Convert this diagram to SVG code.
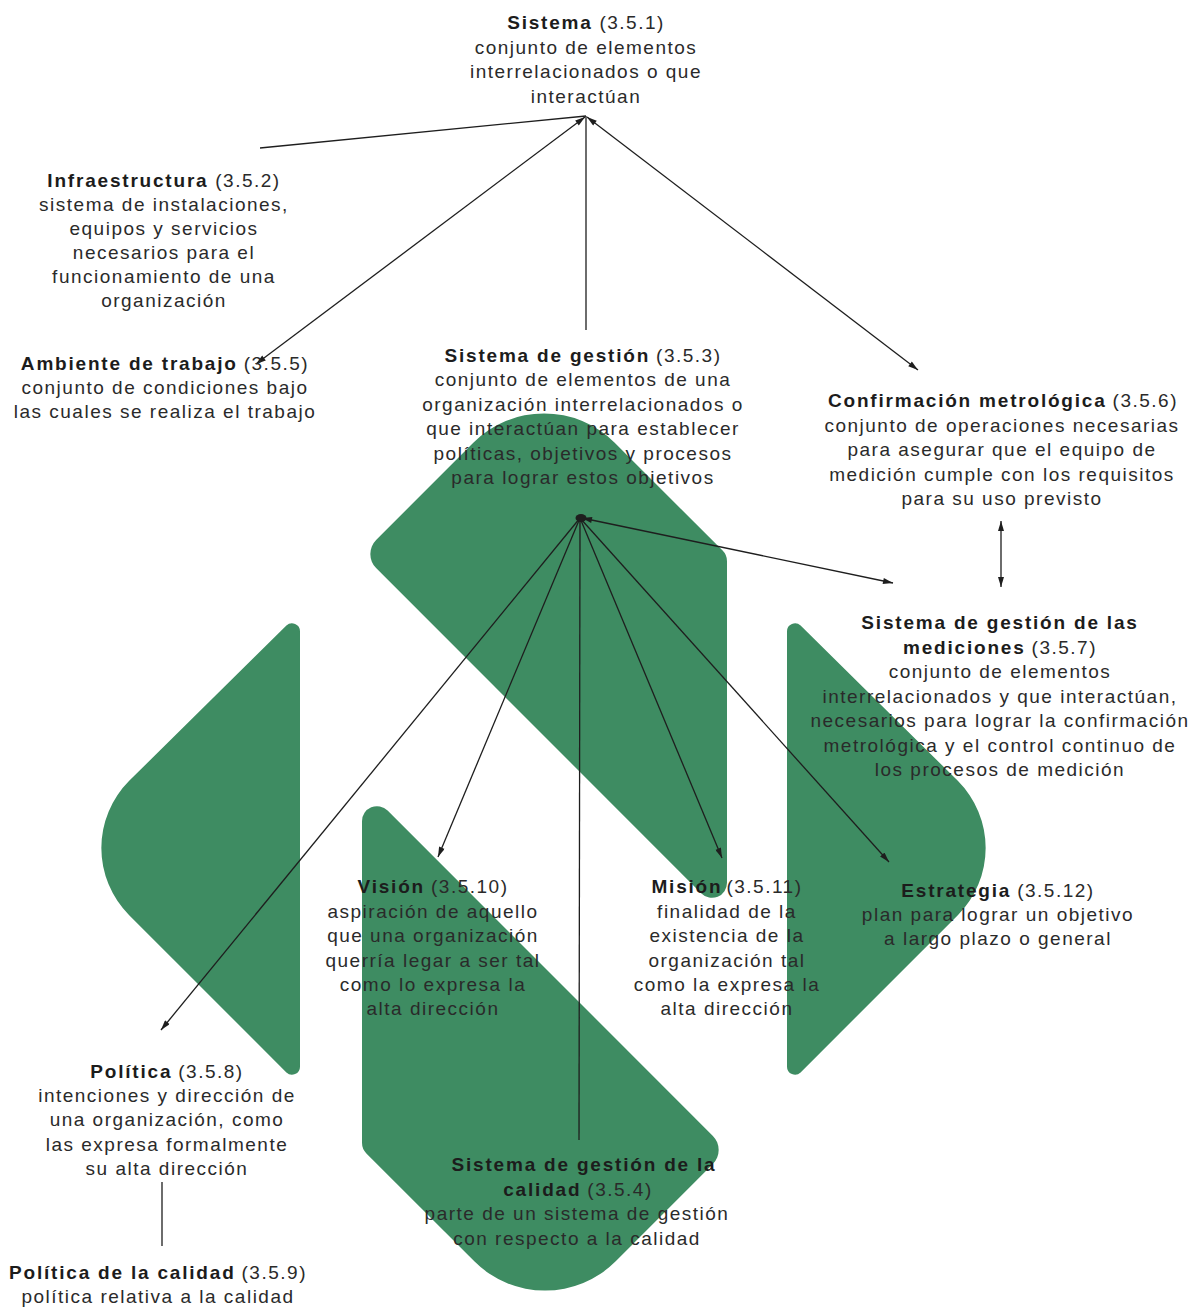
<svg xmlns="http://www.w3.org/2000/svg" width="1203" height="1307" viewBox="0 0 1203 1307">
<style>
text{font-family:"Liberation Sans",Arial,sans-serif;font-size:19px;letter-spacing:1.5px;fill:#2a2a2a;text-anchor:middle}
.b{font-weight:bold;fill:#1c1c1c;letter-spacing:1.8px}
.shape{fill:#3e8c62}
.ln{stroke:#1e1e1e;stroke-width:1.3;fill:none}
</style>
<defs>
<marker id="arr" viewBox="0 0 10 6" refX="10" refY="3" markerWidth="11" markerHeight="6" markerUnits="userSpaceOnUse" orient="auto-start-reverse">
<path d="M0,0 L10,3 L0,6 z" fill="#1e1e1e"/>
</marker>
</defs>
<rect width="1203" height="1307" fill="#ffffff"/>
<g id="background-shapes">
<path class="shape" d="M129.2,780.8 L286.4,625.6 A8,8 0 0 1 300,631.3 L300,1066.7 A8,8 0 0 1 286.4,1072.4 L129.2,915.2 A95,95 0 0 1 129.2,780.8 Z"/>
<path class="shape" d="M957.8,780.8 L800.6,625.6 A8,8 0 0 0 787,631.3 L787,1066.7 A8,8 0 0 0 800.6,1072.4 L957.8,915.2 A95,95 0 0 0 957.8,780.8 Z"/>
<path class="shape" d="M376.1,540 L473.3,442.7 A100,100 0 0 1 614.7,442.7 L722.6,550.6 A15,15 0 0 1 727,561.2 L727,882.8 A15,15 0 0 1 701.4,893.4 L376.1,568.1 A20,20 0 0 1 376.1,540 Z"/>
<path class="shape" d="M712.9,1164 L615.7,1261.3 A100,100 0 0 1 474.3,1261.3 L366.4,1153.4 A15,15 0 0 1 362,1142.8 L362,821.2 A15,15 0 0 1 387.6,810.6 L712.9,1135.9 A20,20 0 0 1 712.9,1164 Z"/>
</g>
<g id="connectors">
<path class="ln" d="M260,148 L586,116"/>
<path class="ln" d="M586,116 L586,330"/>
<path class="ln" d="M585,117 L256,364" marker-start="url(#arr)" marker-end="url(#arr)"/>
<path class="ln" d="M587,117 L918,370" marker-start="url(#arr)" marker-end="url(#arr)"/>
<path class="ln" d="M580,518 L161,1030" marker-end="url(#arr)"/>
<path class="ln" d="M580,518 L438,857" marker-end="url(#arr)"/>
<path class="ln" d="M580,518 L579,1140"/>
<path class="ln" d="M580,518 L722,858" marker-end="url(#arr)"/>
<path class="ln" d="M580,518 L889,862" marker-end="url(#arr)"/>
<path class="ln" d="M582,518 L893,583" marker-start="url(#arr)" marker-end="url(#arr)"/>
<path class="ln" d="M1001,521 L1001,587" marker-start="url(#arr)" marker-end="url(#arr)"/>
<path class="ln" d="M162,1182 L162,1246"/>
<ellipse cx="581" cy="518" rx="5.5" ry="4" fill="#1e1e1e"/>
</g>
<g id="n-sistema">
<text x="586" y="29"><tspan class="b">Sistema</tspan> (3.5.1)</text>
<text x="586" y="54">conjunto de elementos</text>
<text x="586" y="78">interrelacionados o que</text>
<text x="586" y="103">interactúan</text>
</g>
<g id="n-infraestructura">
<text x="164" y="187"><tspan class="b">Infraestructura</tspan> (3.5.2)</text>
<text x="164" y="211">sistema de instalaciones,</text>
<text x="164" y="235">equipos y servicios</text>
<text x="164" y="259">necesarios para el</text>
<text x="164" y="283">funcionamiento de una</text>
<text x="164" y="307">organización</text>
</g>
<g id="n-ambiente">
<text x="165" y="370"><tspan class="b">Ambiente de trabajo</tspan><tspan dx="6">(3.5.5)</tspan></text>
<text x="165" y="394">conjunto de condiciones bajo</text>
<text x="165" y="418">las cuales se realiza el trabajo</text>
</g>
<g id="n-sistema-gestion">
<text x="583" y="362"><tspan class="b">Sistema de gestión</tspan><tspan dx="6">(3.5.3)</tspan></text>
<text x="583" y="386">conjunto de elementos de una</text>
<text x="583" y="411">organización interrelacionados o</text>
<text x="583" y="435">que interactúan para establecer</text>
<text x="583" y="460">políticas, objetivos y procesos</text>
<text x="583" y="484">para lograr estos objetivos</text>
</g>
<g id="n-confirmacion">
<text x="1003" y="407"><tspan class="b">Confirmación metrológica</tspan><tspan dx="6">(3.5.6)</tspan></text>
<text x="1002" y="432">conjunto de operaciones necesarias</text>
<text x="1002" y="456">para asegurar que el equipo de</text>
<text x="1002" y="481">medición cumple con los requisitos</text>
<text x="1002" y="505">para su uso previsto</text>
</g>
<g id="n-mediciones">
<text x="1000" y="629" class="b">Sistema de gestión de las</text>
<text x="1000" y="654"><tspan class="b">mediciones</tspan><tspan dx="6">(3.5.7)</tspan></text>
<text x="1000" y="678">conjunto de elementos</text>
<text x="1000" y="703">interrelacionados y que interactúan,</text>
<text x="1000" y="727">necesarios para lograr la confirmación</text>
<text x="1000" y="752">metrológica y el control continuo de</text>
<text x="1000" y="776">los procesos de medición</text>
</g>
<g id="n-vision">
<text x="433" y="893"><tspan class="b">Visión</tspan><tspan dx="6">(3.5.10)</tspan></text>
<text x="433" y="918">aspiración de aquello</text>
<text x="433" y="942">que una organización</text>
<text x="433" y="967">querría legar a ser tal</text>
<text x="433" y="991">como lo expresa la</text>
<text x="433" y="1015">alta dirección</text>
</g>
<g id="n-mision">
<text x="727" y="893"><tspan class="b">Misión</tspan><tspan dx="4">(3.5.11)</tspan></text>
<text x="727" y="918">finalidad de la</text>
<text x="727" y="942">existencia de la</text>
<text x="727" y="967">organización tal</text>
<text x="727" y="991">como la expresa la</text>
<text x="727" y="1015">alta dirección</text>
</g>
<g id="n-estrategia">
<text x="998" y="897"><tspan class="b">Estrategia</tspan><tspan dx="6">(3.5.12)</tspan></text>
<text x="998" y="921">plan para lograr un objetivo</text>
<text x="998" y="945">a largo plazo o general</text>
</g>
<g id="n-politica">
<text x="167" y="1078"><tspan class="b">Política</tspan><tspan dx="6">(3.5.8)</tspan></text>
<text x="167" y="1102">intenciones y dirección de</text>
<text x="167" y="1126">una organización, como</text>
<text x="167" y="1151">las expresa formalmente</text>
<text x="167" y="1175">su alta dirección</text>
</g>
<g id="n-politica-calidad">
<text x="158" y="1279"><tspan class="b">Política de la calidad</tspan><tspan dx="6">(3.5.9)</tspan></text>
<text x="158" y="1303">política relativa a la calidad</text>
</g>
<g id="n-sgc">
<text x="584" y="1171" class="b">Sistema de gestión de la</text>
<text x="578" y="1196"><tspan class="b">calidad</tspan><tspan dx="6">(3.5.4)</tspan></text>
<text x="577" y="1220">parte de un sistema de gestión</text>
<text x="577" y="1245">con respecto a la calidad</text>
</g>
</svg>
